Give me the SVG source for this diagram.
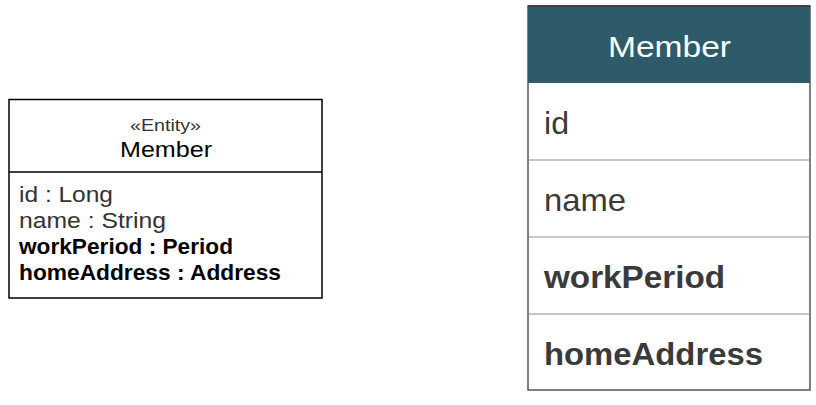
<svg xmlns="http://www.w3.org/2000/svg" width="816" height="405" viewBox="0 0 816 405">
<style>
.uml{fill:#fff;stroke:#000;stroke-width:1.5}
.t{font-family:"Liberation Sans",Arial,sans-serif}
.attr{font-size:22px;fill:#333}
.strong{fill:#000;font-weight:bold}
.b{font-weight:bold}
.row{font-size:32px;fill:#3a3a3a}
.div{stroke:#c8c8c8;stroke-width:2}
</style>
<g id="uml-member">
<rect class="uml" x="9" y="99.5" width="313" height="198.5"/>
<line x1="9" y1="172" x2="322" y2="172" stroke="#000" stroke-width="1.5"/>
<text class="t" x="130" y="131" font-size="16" fill="#333" textLength="71" lengthAdjust="spacingAndGlyphs">«Entity»</text>
<text class="t" x="120" y="157" font-size="22" fill="#000" textLength="92" lengthAdjust="spacingAndGlyphs">Member</text>
<text class="t attr" x="19" y="202" textLength="94" lengthAdjust="spacingAndGlyphs">id : Long</text>
<text class="t attr" x="19" y="228" textLength="147" lengthAdjust="spacingAndGlyphs">name : String</text>
<text class="t attr strong" x="19" y="254" textLength="214" lengthAdjust="spacingAndGlyphs">workPeriod : Period</text>
<text class="t attr strong" x="19" y="280" textLength="262" lengthAdjust="spacingAndGlyphs">homeAddress : Address</text>
</g>
<g id="table-member">
<rect x="528" y="6" width="282" height="384" fill="#fff" stroke="#555" stroke-width="1.5"/>
<rect x="528" y="6" width="282" height="77" fill="#2d5b6a"/>
<line x1="528" y1="6" x2="810" y2="6" stroke="#333" stroke-width="1.5"/>
<text class="t" x="608" y="57" font-size="30" fill="#fff" textLength="123" lengthAdjust="spacingAndGlyphs">Member</text>
<line class="div" x1="529" y1="160" x2="809" y2="160"/>
<line class="div" x1="529" y1="237" x2="809" y2="237"/>
<line class="div" x1="529" y1="314" x2="809" y2="314"/>
<text class="t row" x="544" y="134" textLength="25" lengthAdjust="spacingAndGlyphs">id</text>
<text class="t row" x="544" y="211" textLength="82" lengthAdjust="spacingAndGlyphs">name</text>
<text class="t row b" x="544" y="288" textLength="181" lengthAdjust="spacingAndGlyphs">workPeriod</text>
<text class="t row b" x="544" y="365" textLength="219" lengthAdjust="spacingAndGlyphs">homeAddress</text>
</g>
</svg>
